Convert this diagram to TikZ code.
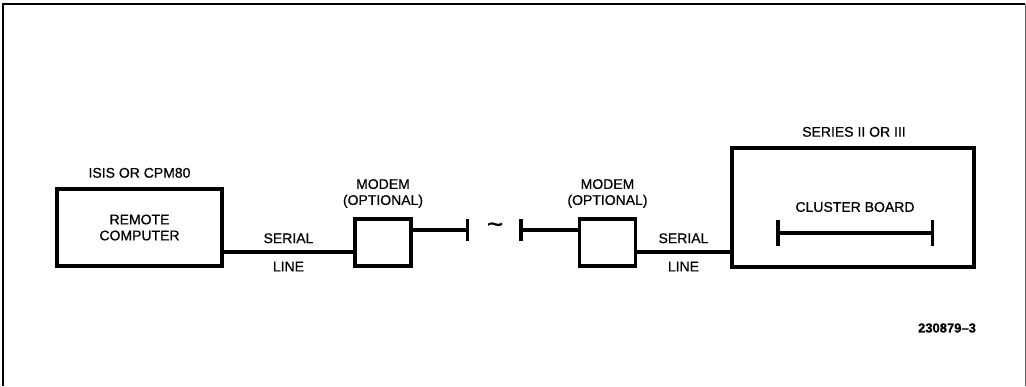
\documentclass[tikz,border=0pt]{standalone}
\usepackage{fontspec}
\setmainfont{Liberation Sans}[FakeBold=0.6]
\usetikzlibrary{arrows.meta,positioning}

\begin{document}
\begin{tikzpicture}[
    x=1pt, y=-1pt,
    font=\fontsize{14}{16}\selectfont,
    box/.style={draw, line width=3.5pt, inner sep=0pt, outer sep=0pt, align=center},
    lbl/.style={inner sep=0pt, align=center},
    wire/.style={line width=3.5pt},
    stub/.style={line width=3.5pt, -{Bar[width=22pt, line width=3.5pt]}},
    bus/.style={line width=3.5pt, {Bar[width=26pt, line width=3.5pt]}-{Bar[width=26pt, line width=3.5pt]}}
]
\useasboundingbox (0,0) rectangle (1026,386);
% frame
\draw[line width=2pt] (3,386) -- (3,4) -- (1025,4);
\draw[line width=0.8pt, black!60] (1025,4) -- (1025,386);

% boxes
\node[box, minimum width=165pt, minimum height=77pt] (comp) at (139.5,227.5) {REMOTE\\COMPUTER};
\node[box, minimum width=56pt, minimum height=47pt] (mod1) at (383,242.5) {};
\node[box, minimum width=56pt, minimum height=47pt] (mod2) at (607.5,242.5) {};
\node[box, line width=4pt, minimum width=242pt, minimum height=119pt] (series) at (852.5,207.5) {};

% labels over the boxes
\node[lbl, above=11pt of comp] (compos) {ISIS OR CPM80};
\node[lbl, above=11pt of mod1] (mod1lbl) {MODEM\\(OPTIONAL)};
\node[lbl, above=11pt of mod2] (mod2lbl) {MODEM\\(OPTIONAL)};
\node[lbl, above=11pt of series, xshift=1.5pt] (serieslbl) {SERIES II OR III};

% serial lines
\coordinate (serY) at (0,252);
\draw[wire] (comp.east |- serY) -- (mod1.west |- serY)
    node[lbl, midway, above=7pt] (ser1) {SERIAL}
    node[lbl, midway, below=8pt] (line1) {LINE};
\draw[wire] (mod2.east |- serY) -- (series.west |- serY)
    node[lbl, midway, above=7pt] (ser2) {SERIAL}
    node[lbl, midway, below=8pt] (line2) {LINE};

% phone link
\coordinate (cut1) at (469,230);
\coordinate (cut2) at (519,230);
\node[lbl, font=\fontsize{28}{28}\selectfont] (tilde) at (495,228) {\char`\~};
\draw[stub] (mod1.east |- cut1) -- (cut1);
\draw[stub] (mod2.west |- cut2) -- (cut2);

% cluster board
\node[lbl] (cluster) at (855,207) {CLUSTER BOARD};
\coordinate (busL) at (776,233);
\coordinate (busR) at (934,233);
\draw[bus] (busL) -- (busR);

\node[lbl, font=\fontsize{13}{15}\selectfont\bfseries] (figno) at (947,328) {230879--3};
\end{tikzpicture}
\end{document}
